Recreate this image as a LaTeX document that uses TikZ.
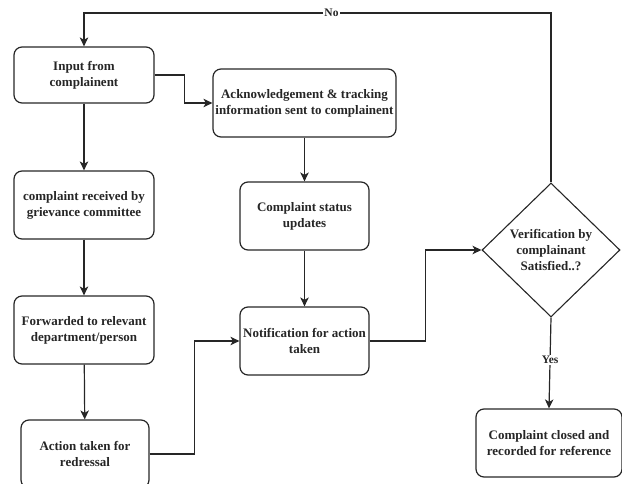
\documentclass[tikz,border=0pt]{standalone}
\usepackage{fontspec}
\setmainfont{Liberation Serif}
\usetikzlibrary{shapes.geometric,arrows.meta}
\begin{document}
\begin{tikzpicture}[x=1pt,y=-1pt,
  every node/.style={font=\fontsize{13}{16}\selectfont\bfseries, text=black!85, align=center},
  stepbox/.style={draw=black!85, line width=1.2pt, rounded corners=8pt, inner sep=2pt},
  decision/.style={draw=black!85, line width=1.1pt, diamond, aspect=1, inner sep=0pt,
    minimum width=138pt, minimum height=134pt},
  flow/.style={draw=black!85, line width=1.2pt, -{Stealth[length=9pt,width=8.5pt,inset=2.5pt]}},
  tag/.style={fill=white, inner sep=1pt, font=\fontsize{11.5}{13}\selectfont\bfseries}
]
\useasboundingbox (0,0) rectangle (622,484);

% left column
\node[stepbox, minimum width=140pt, minimum height=56pt] (input) at (84,75) {Input from\\complainent};
\node[stepbox, minimum width=140pt, minimum height=68pt] (received) at (84,205) {complaint received by\\grievance committee};
\node[stepbox, minimum width=140pt, minimum height=68pt] (forward) at (84,330) {Forwarded to relevant\\department/person};
\node[stepbox, minimum width=128pt, minimum height=68pt] (action) at (85,454) {Action taken for\\redressal};

% middle column
\node[stepbox, minimum width=183pt, minimum height=68pt] (ack) at (304.5,103) {Acknowledgement \& tracking\\information sent to complainent};
\node[stepbox, minimum width=129pt, minimum height=68pt] (status) at (304.5,216) {Complaint status\\updates};
\node[stepbox, minimum width=129pt, minimum height=68pt] (notify) at (304.5,341) {Notification for action\\taken};

% right column
\node[decision] (verify) at (551,250) {Verification by\\complainant\\Satisfied..?};
\node[stepbox, minimum width=146pt, minimum height=68pt] (closed) at (549,443) {Complaint closed and\\recorded for reference};

\coordinate (loopR) at (551,13);
\coordinate (loopL) at (84,13);

% connectors
\draw[flow] (input) -- (received);
\draw[flow] (received) -- (forward);
\draw[flow] (forward) -- (action);
\draw[flow] (ack) -- (status);
\draw[flow] (status) -- (notify);
\draw[flow] (input.east) -- ++(30,0) |- (ack.west);
\draw[flow] (action.east) -- ++(45,0) |- (notify.west);
\draw[flow] (notify.east) -- ++(56,0) |- (verify.west);
\draw[flow] (verify.north) -- (loopR) -- node[tag, pos=0.47] {No} (loopL) -- (input.north);
\draw[flow] (verify.south) -- node[tag, pos=0.47] {Yes} (closed.north);
\end{tikzpicture}
\end{document}
